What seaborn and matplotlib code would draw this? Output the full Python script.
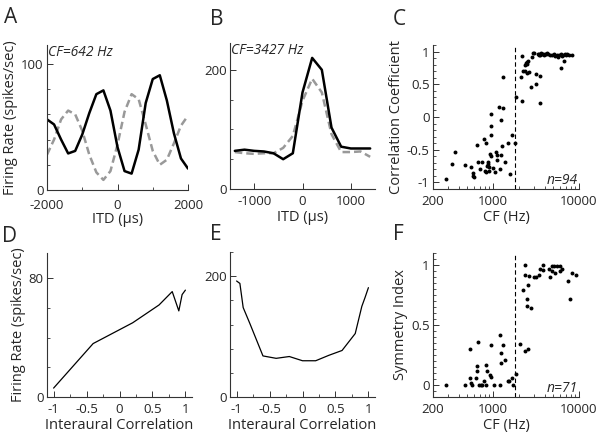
import matplotlib
matplotlib.use("Agg")
import matplotlib.pyplot as plt
from matplotlib.ticker import MultipleLocator, FixedLocator, NullFormatter, FuncFormatter
import seaborn as sns

# ---- data ----
itd_a = [-2000, -1800, -1600, -1400, -1200, -1000, -800, -600, -400, -200, 0,
         200, 400, 600, 800, 1000, 1200, 1400, 1600, 1800, 2000]
rate_a_solid = [56, 52, 40, 29, 31, 44, 61, 76, 79, 63, 34, 15, 13, 32, 69, 88, 91, 71, 45, 25, 17]
rate_a_dash = [28, 40, 56, 63, 60, 47, 28, 14, 8, 15, 36, 62, 76, 72, 52, 31, 20, 24, 37, 51, 59]

itd_b = [-1400, -1200, -1000, -800, -600, -400, -200, 0, 200, 400, 600, 800, 1000, 1200, 1400]
rate_b_solid = [64, 66, 64, 63, 60, 50, 60, 162, 220, 200, 103, 71, 68, 68, 68]
rate_b_dash = [62, 60, 59, 60, 60, 69, 89, 148, 185, 162, 92, 62, 62, 63, 54]

corr_d = [-1, -0.4, 0.2, 0.6, 0.8, 0.9, 0.95, 1]
rate_d = [6, 36, 50, 62, 71, 58, 69, 72]

corr_e = [-1, -0.95, -0.9, -0.8, -0.6, -0.4, -0.2, 0, 0.2, 0.4, 0.6, 0.8, 0.9, 0.95, 1]
rate_e = [192, 188, 148, 122, 68, 64, 67, 60, 60, 69, 77, 105, 150, 165, 181]

cf_c = [284, 337, 361, 476, 561, 581, 591, 601, 644, 667, 708, 752, 778, 813, 820,
        849, 864, 879, 894, 894, 834, 942, 958, 958, 925, 958, 1000, 1044, 1090, 1109,
        1118, 1158, 1219, 1241, 1251, 1273, 1295, 1318, 1388, 1500, 1567, 1678, 1813,
        1861, 2100, 2173, 2191, 2249, 2328, 2400, 2455, 2500, 2371, 2494, 2624, 2580,
        2865, 2965, 2792, 3120, 3178, 3524, 3524,
        2950, 3300, 3450, 3550, 3650, 3750, 3850, 3950, 4100, 4250, 4400, 4600, 4900,
        5100, 5300, 5500, 5700, 5900, 6100, 6300, 6500, 6800, 7000, 7300, 7600, 8200,
        6220, 6670, 3400, 4000]
cc_c = [-0.95, -0.72, -0.53, -0.73, -0.76, -0.85, -0.90, -0.92, -0.43, -0.68, -0.79,
        -0.68, -0.34, -0.82, -0.40, -0.75, -0.68, -0.72, -0.76, -0.82, -0.84, -0.28,
        -0.14, 0.05, -0.57, -0.59, -0.78, -0.84, -0.53, -0.58, -0.65, 0.15, -0.79,
        -0.04, -0.58, -0.45, 0.14, 0.61, -0.68, -0.39, -0.87, -0.27, -0.40,
        0.30, 0.61, 0.93, 0.24, 0.71, 0.80, 0.82, 0.84, 0.81, 0.70, 0.67, 0.69, 0.86,
        0.92, 0.98, 0.46, 0.66, 0.51, 0.62, 0.22,
        0.98, 0.96, 0.97, 0.95, 0.98, 0.96, 0.97, 0.95, 0.97, 0.98, 0.96, 0.95, 0.94,
        0.96, 0.93, 0.95, 0.92, 0.94, 0.96, 0.93, 0.95, 0.97, 0.94, 0.96, 0.95, 0.94,
        0.75, 0.86, 0.94, 0.97]

cf_f = [284, 476, 552, 572, 542, 633, 650, 650, 533, 667, 690, 727, 752, 778, 820,
        828, 857, 918, 942, 950, 1017, 1208, 1208, 1230, 1230, 1306, 1376, 1500,
        1513, 1663, 1706, 1845,
        2065, 2328, 2580, 2249, 2328, 2328, 2535, 2494, 2494, 2766, 2624, 3015, 3178,
        3404, 3524, 3776, 3838, 4484, 4574, 4810, 4900, 5140, 5240, 5520, 6020, 6020,
        6330, 7400, 7780, 8340, 9250]
si_f = [0, 0, 0.02, 0, 0.06, 0.06, 0.12, 0.16, 0.30, 0.36, 0, 0, 0, 0.03, 0,
        0.17, 0.12, 0.08, 0.07, 0.33, 0, 0, 0.42, 0.27, 0.18, 0.33, 0.21, 0.03,
        0.03, 0.06, 0, 0.09,
        0.34, 0.28, 0.30, 0.79, 1.0, 0.92, 0.83, 0.72, 0.66, 0.64, 0.91, 0.90, 0.90,
        0.92, 0.97, 1.0, 0.96, 0.97, 0.90, 0.99, 0.95, 0.99, 0.93, 0.99, 0.99, 0.95,
        0.97, 0.87, 0.72, 0.93, 0.92]

cf_boundary = 1800

# ---- style ----
sns.set_style("ticks")
plt.rcParams["font.family"] = ["Open Sans", "DejaVu Sans"]
plt.rcParams["axes.unicode_minus"] = False
plt.rcParams["xtick.direction"] = "in"
plt.rcParams["ytick.direction"] = "in"

fig = plt.figure(figsize=(6, 4.32), dpi=100)


def box(l, t, r, b):
    return fig.add_axes([l / 600, 1 - b / 432, (r - l) / 600, (b - t) / 432])


def style(ax, xpad=4.5):
    for s in ["top", "right"]:
        ax.spines[s].set_visible(False)
    for s in ["left", "bottom"]:
        ax.spines[s].set_linewidth(0.8)
        ax.spines[s].set_color("#333333")
    ax.tick_params(which="major", length=4, width=0.7, labelsize=9.5, color="#333333")
    ax.tick_params(axis="x", which="major", pad=xpad)
    ax.tick_params(axis="y", which="major", pad=2.5)
    ax.tick_params(which="minor", length=2.5, width=0.6, color="#333333")


fmt = FuncFormatter(lambda v, p: "%g" % v)
lab = dict(fontsize=10.5)

axA = box(47, 45, 188, 190)
axB = box(230, 43, 375, 189)
axC = box(433, 45, 579, 189)
axD = box(47, 253, 192, 397)
axE = box(230, 252, 375, 397)
axF = box(433, 253, 579, 397)

# A
sns.lineplot(x=itd_a, y=rate_a_dash, ax=axA, color="#999999", lw=1.8,
             linestyle=(0, (3, 1.6)), estimator=None)
sns.lineplot(x=itd_a, y=rate_a_solid, ax=axA, color="black", lw=1.8, estimator=None)
axA.set_xlim(-2000, 2000)
axA.set_ylim(0, 115)
axA.set_xticks([-2000, 0, 2000])
axA.set_yticks([0, 100])
axA.yaxis.set_minor_locator(MultipleLocator(20))
axA.xaxis.set_minor_locator(MultipleLocator(1000))
axA.set_xlabel("ITD (\u03bcs)", labelpad=0, **lab)
axA.set_ylabel("Firing Rate (spikes/sec)", labelpad=2, **lab)
axA.text(0.01, 1.0, "CF=642 Hz", transform=axA.transAxes, ha="left", va="top",
         style="italic", fontsize=10)

# B
sns.lineplot(x=itd_b, y=rate_b_dash, ax=axB, color="#999999", lw=1.8,
             linestyle=(0, (3, 1.6)), estimator=None)
sns.lineplot(x=itd_b, y=rate_b_solid, ax=axB, color="black", lw=1.8, estimator=None)
axB.set_xlim(-1500, 1500)
axB.set_ylim(0, 245)
axB.set_xticks([-1000, 0, 1000])
axB.set_yticks([0, 200])
axB.yaxis.set_minor_locator(MultipleLocator(50))
axB.set_xlabel("ITD (\u03bcs)", labelpad=1, **lab)
axB.text(0.01, 1.0, "CF=3427 Hz", transform=axB.transAxes, ha="left", va="top",
         style="italic", fontsize=10)

# D
sns.lineplot(x=corr_d, y=rate_d, ax=axD, color="black", lw=0.9, estimator=None)
axD.set_xlim(-1.1, 1.1)
axD.set_ylim(0, 97)
axD.set_xticks([-1, -0.5, 0, 0.5, 1])
axD.xaxis.set_major_formatter(fmt)
axD.xaxis.set_minor_locator(MultipleLocator(0.25))
axD.set_yticks([0, 80])
axD.yaxis.set_minor_locator(MultipleLocator(20))
axD.set_xlabel("Interaural Correlation", labelpad=1, **lab)
axD.set_ylabel("Firing Rate (spikes/sec)", labelpad=2, **lab)

# E
sns.lineplot(x=corr_e, y=rate_e, ax=axE, color="black", lw=0.9, estimator=None)
axE.set_xlim(-1.1, 1.1)
axE.set_ylim(0, 240)
axE.set_xticks([-1, -0.5, 0, 0.5, 1])
axE.xaxis.set_major_formatter(fmt)
axE.xaxis.set_minor_locator(MultipleLocator(0.25))
axE.set_yticks([0, 200])
axE.yaxis.set_minor_locator(MultipleLocator(40))
axE.set_xlabel("Interaural Correlation", labelpad=1, **lab)

# C and F scatter
for ax, xs, ys, ylab, n, ylim, yt, ymin in [
        (axC, cf_c, cc_c, "Correlation Coefficient", "n=94", (-1.1, 1.1),
         [-1, -0.5, 0, 0.5, 1], 0.1),
        (axF, cf_f, si_f, "Symmetry Index", "n=71", (-0.1, 1.1), [0, 0.5, 1], 0.05)]:
    sns.scatterplot(x=xs, y=ys, ax=ax, color="black", s=8, linewidth=0)
    ax.axvline(cf_boundary, color="black", lw=0.8, ls=(0, (4, 2.5)))
    ax.set_xscale("log")
    ax.set_xlim(200, 10000)
    ax.set_ylim(*ylim)
    ax.xaxis.set_major_locator(FixedLocator([200, 1000, 10000]))
    ax.xaxis.set_major_formatter(fmt)
    ax.xaxis.set_minor_locator(FixedLocator([300, 400, 500, 600, 700, 800, 900,
                                             2000, 3000, 4000, 5000, 6000, 7000, 8000, 9000]))
    ax.xaxis.set_minor_formatter(NullFormatter())
    ax.set_yticks(yt)
    ax.yaxis.set_major_formatter(fmt)
    ax.yaxis.set_minor_locator(MultipleLocator(ymin))
    ax.set_xlabel("CF (Hz)", labelpad=1, **lab)
    ax.set_ylabel(ylab, labelpad=2, **lab)
    ax.text(0.99, 0.01, n, transform=ax.transAxes, ha="right", va="bottom",
            style="italic", fontsize=10)

# A's "-2000" sits just under the rate axis "0", so push its x labels down a bit
style(axA, xpad=6.5)
for ax in [axB, axC, axD, axE, axF]:
    style(ax)

for letter, x, y in [("A", 4, 23), ("B", 210, 25), ("C", 393, 25),
                     ("D", 2, 242), ("E", 210, 240), ("F", 393, 240)]:
    fig.text(x / 600, 1 - y / 432, letter, fontsize=15, ha="left", va="baseline")

fig.savefig("out.png", dpi=100)
